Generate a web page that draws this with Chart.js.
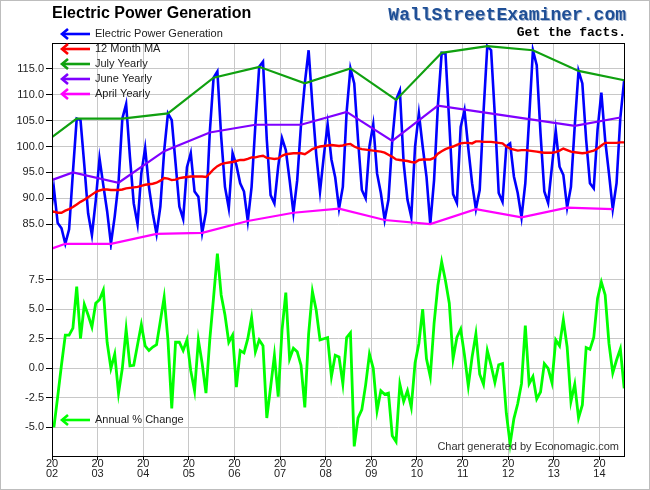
<!DOCTYPE html>
<html><head><meta charset="utf-8">
<script src="https://cdn.jsdelivr.net/npm/chart.js@4.4.1/dist/chart.umd.min.js"></script>
<style>
html,body{margin:0;padding:0;background:#fff;}
#frame{position:relative;width:650px;height:490px;box-sizing:border-box;border:1px solid #bdbdbd;background:#fff;overflow:hidden;}
#c{position:absolute;left:0;top:0;}
.t{position:absolute;white-space:nowrap;line-height:normal;}
#title{left:51px;top:3px;font:bold 16px "Liberation Sans",Arial,sans-serif;color:#000;}
#wse{right:23px;top:4px;font:bold 18px "Liberation Mono","DejaVu Sans Mono",monospace;color:#1f4f96;text-shadow:1px 1px 0 #a9b9d2;}
#facts{right:23px;top:24px;font:bold 13px "Liberation Mono","DejaVu Sans Mono",monospace;color:#000;}
</style></head>
<body>
<div id="frame">
<canvas id="c" width="648" height="488"></canvas>
<div class="t" id="title">Electric Power Generation</div>
<div class="t" id="wse">WallStreetExaminer.com</div>
<div class="t" id="facts">Get the facts.</div>
</div>
<script>
// ---- data ----
const tickYears = [2002,2003,2004,2005,2006,2007,2008,2009,2010,2011,2012,2013,2014];
const topTicks = [85,90,95,100,105,110,115];
const bottomTicks = [-5,-2.5,0,2.5,5,7.5];

// monthly series starting December 2001
const powerGen = [
 86.0,
 91.9,85.2,84.2,81.2,84.0,95.0,105.4,105.1,96.4,87.1,82.9,89.5,
 97.7,92.5,87.5,81.2,86.5,93.0,105.4,108.2,98.0,89.0,85.0,94.8,
 99.7,92.2,87.1,83.1,88.4,99.1,106.4,105.1,96.8,88.4,86.0,96.0,
 98.7,91.3,90.3,83.3,87.3,102.7,113.3,114.5,101.9,92.2,88.1,98.7,
 96.4,92.9,91.3,85.6,92.2,104.2,115.4,116.4,101.3,90.6,89.0,96.1,
 101.6,99.3,93.5,87.2,93.5,104.2,112.2,118.6,108.0,98.5,91.3,98.2,
 104.3,97.5,94.0,88.0,92.2,106.7,115.1,112.2,101.3,91.6,90.0,100.0,
 104.3,94.8,91.0,85.8,89.7,101.1,109.0,110.8,96.8,89.7,86.4,100.0,
 106.4,100.0,94.2,85.0,93.5,107.9,118.1,118.0,104.5,90.8,89.1,103.8,
 107.0,99.7,92.9,87.9,91.6,106.6,119.4,118.6,105.8,91.0,89.3,100.0,
 100.6,94.2,91.0,86.3,92.9,105.3,118.6,115.7,102.5,91.3,89.1,96.1,
 103.1,96.1,94.5,88.2,92.2,104.0,114.6,112.2,101.3,92.9,91.9,103.2,
 110.4,101.3,94.8,87.9,92.9,105.6,112.8
];
const movingAvg12 = [
 87.5,
 87.4,87.2,87.2,87.6,87.9,88.3,88.8,89.3,89.7,90.2,90.7,91.2,
 91.5,91.7,91.7,91.6,91.6,91.6,91.7,91.9,92.0,92.1,92.2,92.4,
 92.6,92.7,92.8,93.0,93.4,93.9,93.8,93.5,93.6,93.9,94.0,94.1,
 94.2,94.2,94.2,94.2,94.1,94.8,95.6,96.2,96.6,96.8,96.9,97.0,
 97.2,97.4,97.4,97.6,97.9,97.9,98.1,98.2,97.8,97.7,97.6,97.7,
 98.2,98.5,98.6,98.7,98.7,98.7,98.5,99.0,99.5,99.8,100.0,100.1,
 100.2,100.3,100.2,100.1,100.2,100.4,100.5,100.0,99.7,99.5,99.4,99.3,
 99.2,99.1,99.0,98.8,98.4,98.0,97.5,97.4,97.3,97.2,97.0,96.9,
 97.4,97.5,97.5,97.5,97.8,98.6,99.1,99.5,99.8,100.0,100.3,100.6,
 100.7,100.7,100.6,101.0,101.0,100.9,100.9,100.9,100.8,100.7,100.6,100.0,
 99.6,99.4,99.2,99.3,99.3,99.2,99.1,99.0,98.9,98.8,98.8,98.8,
 98.9,99.2,99.6,99.3,99.0,98.9,98.8,98.7,98.8,99.0,99.2,99.6,
 100.2,100.7,100.7,100.7,100.7,100.8,100.8
];
// monthly series starting January 2002
const annualPctChange = [
 -5.0,-2.4,0.3,2.8,2.8,3.4,6.9,2.5,5.4,4.5,3.5,5.5,
 5.8,6.6,2.2,0.0,1.2,-2.1,0.0,3.3,0.2,0.25,2.0,3.7,
 1.9,1.5,1.8,2.0,4.0,6.0,2.4,-3.4,2.2,2.2,1.5,2.4,
 -0.2,-1.9,2.4,0.4,-2.1,2.4,6.0,9.7,6.2,4.5,2.2,2.8,
 -1.6,1.5,1.3,2.5,4.3,1.4,2.4,1.9,-4.2,-1.6,1.1,-2.4,
 3.2,6.4,0.8,1.7,1.4,0.25,-3.3,2.9,6.5,4.9,2.4,2.5,
 2.6,-0.7,1.1,0.95,-1.3,2.6,3.0,-6.6,-4.2,-3.5,-1.4,1.2,
 0.0,-3.6,-1.9,-2.2,-2.1,-5.7,-6.2,-1.35,-2.8,-1.9,-3.3,0.45,
 2.1,5.0,0.8,-0.7,3.8,7.0,9.0,7.4,5.5,0.8,2.6,3.3,
 1.1,-1.5,0.95,2.9,-0.5,-1.35,1.5,0.25,-1.2,0.3,0.4,-3.8,
 -6.4,-4.25,-3.0,-1.3,3.6,-1.3,-0.7,-2.6,-2.0,0.4,0.0,-1.2,
 2.4,1.9,4.1,1.8,-2.8,-1.35,-4.2,-3.1,1.75,1.6,2.6,5.9,
 7.3,6.2,2.1,-0.4,0.7,1.65,-1.7
];
// yearly series, one value per year 2001..2014
const yearlyYears = [2001,2002,2003,2004,2005,2006,2007,2008,2009,2010,2011,2012,2013,2014];
const julyYearly  = [98.8,105.4,105.4,106.4,113.3,115.4,112.2,115.1,109.0,118.1,119.4,118.6,114.6,112.8];
const juneYearly  = [91.8,95.0,93.0,99.1,102.7,104.2,104.2,106.7,101.1,107.9,106.6,105.3,104.0,105.6];
const aprilYearly = [78.1,81.2,81.2,83.1,83.3,85.6,87.2,88.0,85.8,85.0,87.9,86.3,88.2,87.9];

// ---- build points ----
function monthly(arr, y0, m0){ return arr.map((v,i)=>({x: y0 + (m0-1+i+0.5)/12, y: v})); }
function yearly(arr, month){ return yearlyYears.map((yr,i)=>({x: yr + (month-0.5)/12, y: arr[i]})); }

const FONT = '"Liberation Sans", Arial, sans-serif';
Chart.defaults.font.family = FONT;

const arrowLegend = {
  id:'arrowLegend',
  afterDraw(chart){
    const ctx = chart.ctx;
    ctx.save();
    chart.data.datasets.forEach(ds=>{
      if (ds.legendY === undefined) return;
      const y = ds.legendY, x0 = 60, x1 = 89;
      ctx.strokeStyle = ds.borderColor; ctx.lineWidth = 2.6; ctx.lineCap='butt'; ctx.lineJoin='miter';
      ctx.beginPath(); ctx.moveTo(x0+1,y); ctx.lineTo(x1,y); ctx.stroke();
      ctx.beginPath(); ctx.moveTo(x0+7,y-5); ctx.lineTo(x0+1,y); ctx.lineTo(x0+7,y+5); ctx.stroke();
      ctx.fillStyle='#222'; ctx.font='11px '+FONT; ctx.textAlign='left'; ctx.textBaseline='middle';
      ctx.fillText(ds.label, 94, y);
    });
    ctx.fillStyle='#333'; ctx.font='11px '+FONT; ctx.textAlign='right'; ctx.textBaseline='middle';
    ctx.fillText('Chart generated by Economagic.com', 618, 446);
    ctx.restore();
  }
};
const frameBox = {
  id:'frameBox',
  afterDatasetsDraw(chart){
    const a = chart.chartArea, ctx = chart.ctx;
    ctx.save(); ctx.strokeStyle='#000'; ctx.lineWidth=1;
    ctx.strokeRect(Math.round(a.left)+0.5, Math.round(a.top)+0.5, Math.round(a.right-a.left)-1, Math.round(a.bottom-a.top)-1);
    ctx.restore();
  }
};

const line = (label, data, color, w, axis, order, legendY) => ({
  label, data, borderColor: color, backgroundColor: color, borderWidth: w,
  pointRadius: 0, tension: 0, fill: false, yAxisID: axis, order, legendY
});

new Chart(document.getElementById('c'), {
  type: 'line',
  data: { datasets: [
    line('Electric Power Generation', monthly(powerGen, 2001, 12), '#0000ff', 2.6, 'y', 6, 33),
    line('12 Month MA', monthly(movingAvg12, 2001, 12), '#ff0000', 2.4, 'y', 5, 48),
    line('July Yearly', yearly(julyYearly, 7), '#10a010', 2.2, 'y', 4, 63),
    line('June Yearly', yearly(juneYearly, 6), '#7f00ff', 2.2, 'y', 3, 78),
    line('April Yearly', yearly(aprilYearly, 4), '#ff00ff', 2.2, 'y', 2, 93),
    line('Annual % Change', monthly(annualPctChange, 2002, 1), '#00ff00', 2.8, 'y2', 1, 419)
  ]},
  options: {
    responsive: false, animation: false, devicePixelRatio: 1,
    layout: { padding: { top: 42, right: 24, left: 0, bottom: 0 } },
    plugins: { legend: { display: false }, tooltip: { enabled: false } },
    scales: {
      x: {
        type: 'linear', min: 2002, max: 2014.56,
        afterBuildTicks: s => { s.ticks = tickYears.map(v => ({ value: v })); },
        afterFit: s => { s.height = 32; },
        ticks: { autoSkip: false, maxRotation: 0, color: '#222', font: { size: 11, lineHeight: 0.91 }, padding: -1,
                 callback: v => ['20', String(v).slice(2)] },
        grid: { color: '#c8c8c8', tickColor: '#000', tickLength: 3 },
        border: { display: false }
      },
      y2: {
        type: 'linear', position: 'left', stack: 'panels', stackWeight: 1, min: -7.5, max: 10,
        afterBuildTicks: s => { s.ticks = bottomTicks.map(v => ({ value: v })); },
        afterFit: s => { s.width = 51; },
        ticks: { color: '#222', font: { size: 11 }, padding: 2, callback: v => Number(v).toFixed(1) },
        grid: { color: '#c8c8c8', tickColor: '#000', tickLength: 6 },
        border: { display: false }
      },
      y: {
        type: 'linear', position: 'left', stack: 'panels', stackWeight: 1, min: 80, max: 120,
        afterBuildTicks: s => { s.ticks = topTicks.map(v => ({ value: v })); },
        afterFit: s => { s.width = 51; },
        ticks: { color: '#222', font: { size: 11 }, padding: 2, callback: v => Number(v).toFixed(1) },
        grid: { color: '#c8c8c8', tickColor: '#000', tickLength: 6 },
        border: { display: false }
      }
    }
  },
  plugins: [frameBox, arrowLegend]
});
</script>
</body></html>
